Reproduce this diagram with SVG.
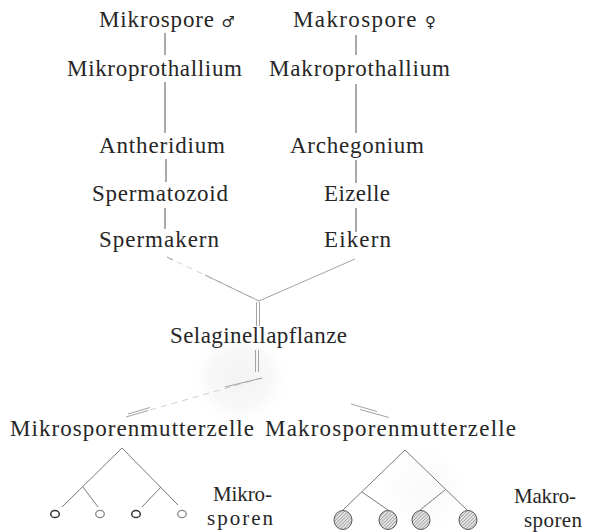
<svg xmlns="http://www.w3.org/2000/svg" width="596" height="532" viewBox="0 0 596 532">
<defs>
<style>
.t{font-family:"Liberation Serif","Times New Roman",serif;font-size:23px;fill:#262626;}
.s{font-size:21px;}
.sym{font-family:"DejaVu Sans",sans-serif;font-size:15px;}
.l{stroke:#555;stroke-width:1;fill:none;}
.lf{stroke:#999;stroke-width:0.9;fill:none;}
.lv{stroke:#c4c4c4;stroke-width:0.8;fill:none;stroke-dasharray:6 5;}
.tr{stroke:#7a7a7a;stroke-width:1;fill:none;}
.c{fill:#fff;stroke:#333;stroke-width:1.5;}
.cl{fill:#fff;stroke:#888;stroke-width:1.3;}
.h{fill:url(#hatch);stroke:#555;stroke-width:1;}
</style>
<pattern id="hatch" patternUnits="userSpaceOnUse" width="2.4" height="2.4" patternTransform="rotate(45)">
<rect width="2.4" height="2.4" fill="#e6e6e6"/>
<line x1="0" y1="0" x2="0" y2="2.4" stroke="#555" stroke-width="0.8"/>
</pattern>
<radialGradient id="smudge">
<stop offset="0" stop-color="#f3f3f3"/>
<stop offset="0.6" stop-color="#f8f8f8"/>
<stop offset="1" stop-color="#fff" stop-opacity="0"/>
</radialGradient>
</defs>
<rect width="596" height="532" fill="#fff"/>
<ellipse cx="240" cy="378" rx="52" ry="50" fill="url(#smudge)"/>
<ellipse cx="425" cy="490" rx="45" ry="45" fill="url(#smudge)" opacity="0.4"/>

<g id="connectors">
<line class="l" x1="165" y1="33" x2="165" y2="55"/>
<line class="l" x1="356" y1="35" x2="356" y2="55"/>
<line class="l" x1="165" y1="82" x2="165" y2="133"/>
<line class="l" x1="356" y1="84" x2="356" y2="133"/>
<line class="l" x1="166" y1="159" x2="166" y2="182"/>
<line class="l" x1="356" y1="160" x2="356" y2="183"/>
<line class="l" x1="165" y1="208" x2="165" y2="229"/>
<line class="l" x1="356" y1="208" x2="356" y2="232"/>
<line class="lv" x1="167" y1="257" x2="259" y2="301"/>
<line class="lf" x1="167" y1="257" x2="173" y2="260"/>
<line class="lf" x1="205" y1="275" x2="259" y2="301"/>
<line class="lf" x1="355" y1="259" x2="259" y2="301"/>
<line class="lf" x1="256.5" y1="302" x2="256.5" y2="326"/>
<line class="lf" x1="259.5" y1="302" x2="259.5" y2="326"/>
<line class="lf" x1="255.5" y1="350" x2="255.5" y2="372"/>
<line class="lf" x1="258.5" y1="350" x2="258.5" y2="372"/>
<line class="lv" x1="262" y1="378" x2="150" y2="410"/>
<line class="lf" x1="225" y1="387" x2="262" y2="378"/>
<line class="lf" x1="126" y1="417" x2="148" y2="410.5"/>
<line class="lf" x1="128" y1="414" x2="150" y2="407.5"/>
<line class="lf" x1="351" y1="404" x2="377" y2="411.5"/>
<line class="lf" x1="360" y1="409.5" x2="389" y2="417.5"/>
<line class="tr" x1="122" y1="448" x2="62" y2="507"/>
<line class="tr" x1="122" y1="448" x2="178" y2="505"/>
<line class="tr" x1="83" y1="487" x2="98" y2="507"/>
<line class="tr" x1="161" y1="487" x2="142" y2="507"/>
<line class="tr" x1="405" y1="450" x2="343" y2="510"/>
<line class="tr" x1="405" y1="450" x2="467" y2="510"/>
<line class="tr" x1="362" y1="492" x2="388" y2="510"/>
<line class="tr" x1="445" y1="490" x2="420" y2="510"/>
</g>

<g id="mikrospore"><text class="t" x="99" y="27" textLength="136" lengthAdjust="spacing">Mikrospore <tspan class="sym">♂</tspan></text></g>
<g id="makrospore"><text class="t" x="293" y="27" textLength="143" lengthAdjust="spacing">Makrospore <tspan class="sym">♀</tspan></text></g>
<g id="mikroprothallium"><text class="t" x="67" y="76" textLength="175" lengthAdjust="spacing">Mikroprothallium</text></g>
<g id="makroprothallium"><text class="t" x="269" y="76" textLength="181" lengthAdjust="spacing">Makroprothallium</text></g>
<g id="antheridium"><text class="t" x="99" y="153" textLength="126" lengthAdjust="spacing">Antheridium</text></g>
<g id="archegonium"><text class="t" x="290" y="153" textLength="134" lengthAdjust="spacing">Archegonium</text></g>
<g id="spermatozoid"><text class="t" x="92" y="201" textLength="136" lengthAdjust="spacing">Spermatozoid</text></g>
<g id="eizelle"><text class="t" x="324" y="201" textLength="66" lengthAdjust="spacing">Eizelle</text></g>
<g id="spermakern"><text class="t" x="99" y="247" textLength="120" lengthAdjust="spacing">Spermakern</text></g>
<g id="eikern"><text class="t" x="324" y="247" textLength="67" lengthAdjust="spacing">Eikern</text></g>
<g id="selaginellapflanze"><text class="t" x="170" y="343" textLength="177" lengthAdjust="spacing">Selaginellapflanze</text></g>
<g id="mikrosporenmutterzelle"><text class="t" x="10" y="436" textLength="244" lengthAdjust="spacing">Mikrosporenmutterzelle</text></g>
<g id="makrosporenmutterzelle"><text class="t" x="265" y="436" textLength="251" lengthAdjust="spacing">Makrosporenmutterzelle</text></g>

<g id="mikrosporen">
<ellipse class="c" cx="55" cy="514" rx="4.3" ry="3.6"/>
<ellipse class="cl" cx="100" cy="514" rx="4.3" ry="3.6"/>
<ellipse class="c" cx="136" cy="514" rx="4.3" ry="3.6"/>
<ellipse class="cl" cx="182" cy="514" rx="4.3" ry="3.6"/>
<text class="t s" x="213" y="501" textLength="59" lengthAdjust="spacing">Mikro-</text>
<text class="t s" x="207" y="525" textLength="66" lengthAdjust="spacing">sporen</text>
</g>
<g id="makrosporen">
<ellipse class="h" cx="343" cy="520" rx="9" ry="9.5"/>
<ellipse class="h" cx="388" cy="520" rx="9" ry="9.5"/>
<ellipse class="h" cx="421" cy="520" rx="9" ry="9.5"/>
<ellipse class="h" cx="468" cy="520" rx="9" ry="9.5"/>
<text class="t s" x="514" y="503" textLength="62" lengthAdjust="spacing">Makro-</text>
<text class="t s" x="524" y="527" textLength="58" lengthAdjust="spacing">sporen</text>
</g>
</svg>
